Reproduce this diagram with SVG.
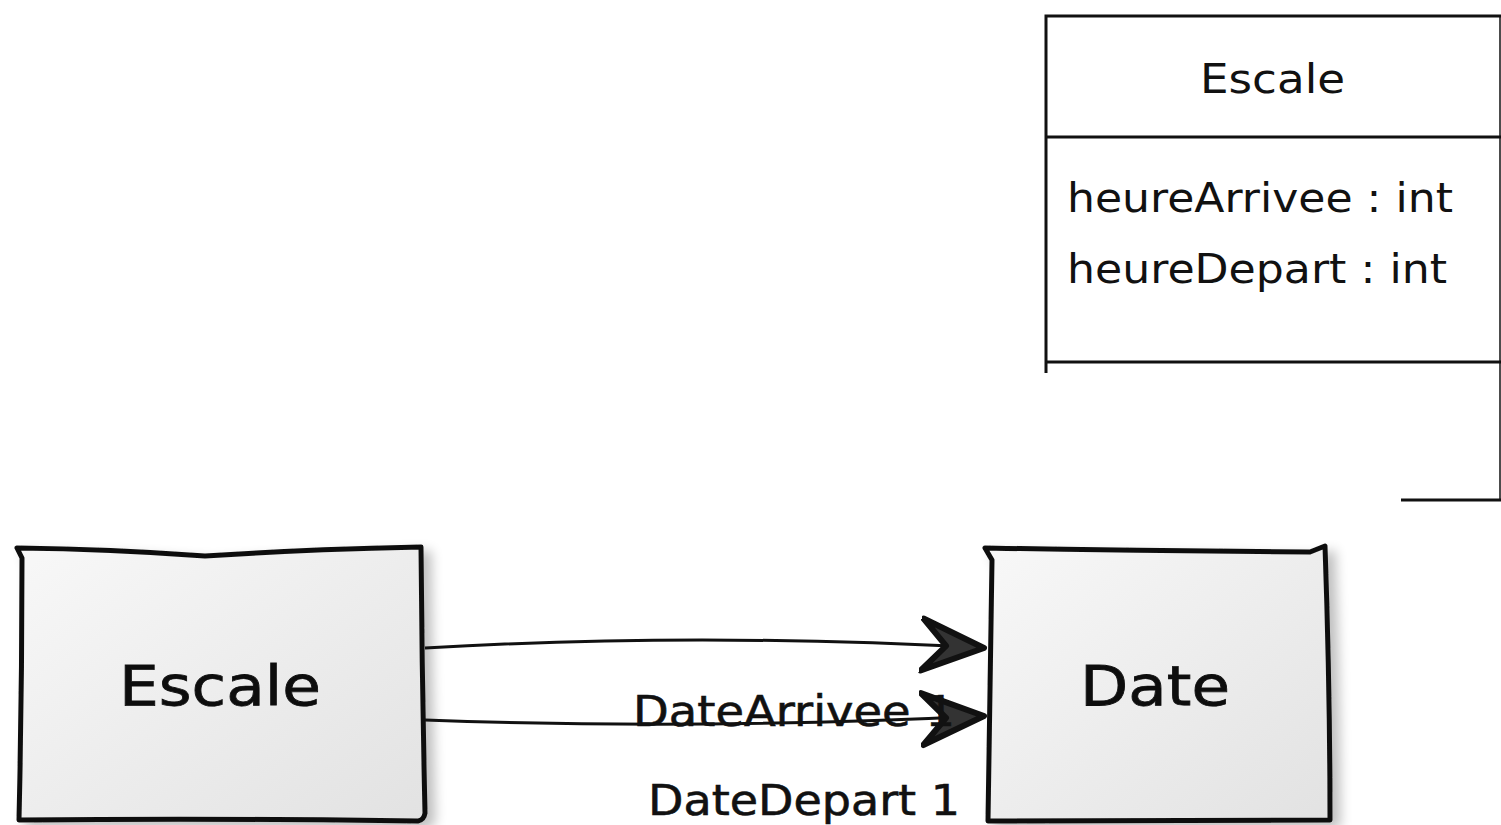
<svg xmlns="http://www.w3.org/2000/svg" width="1501" height="825" viewBox="0 0 1501 825">
<style>
.uml{fill:none;stroke:#111;stroke-width:3}
.umltxt{font-family:"DejaVu Sans",sans-serif;font-size:40px;fill:#111}
.sk{stroke:#111;stroke-width:5;stroke-linejoin:round;fill:url(#g)}
.sktxt{font-family:"DejaVu Sans",sans-serif;font-size:56px;fill:#111;stroke:#111;stroke-width:0.8}
.lbl{font-family:"DejaVu Sans",sans-serif;font-size:42px;fill:#111;stroke:#111;stroke-width:0.6}
.edge{fill:none;stroke:#111;stroke-width:3}
</style>
<defs>
<linearGradient id="g" x1="0" y1="0" x2="1" y2="1">
<stop offset="0" stop-color="#f8f8f8"/>
<stop offset="1" stop-color="#e2e2e2"/>
</linearGradient>
<filter id="sh" x="-10%" y="-10%" width="130%" height="130%">
<feGaussianBlur in="SourceAlpha" stdDeviation="6"/>
<feOffset dx="8" dy="6"/>
<feComponentTransfer><feFuncA type="linear" slope="0.25"/></feComponentTransfer>
<feMerge><feMergeNode/><feMergeNode in="SourceGraphic"/></feMerge>
</filter>
<marker id="arr" markerUnits="userSpaceOnUse" markerWidth="80" markerHeight="70" refX="64" refY="30" orient="auto">
<path d="M2,4 L64,30 L2,56 L26,30 Z" fill="#333" stroke="#111" stroke-width="6" stroke-linejoin="round"/>
</marker>
</defs>

<g id="class-escale">
<path class="uml" d="M1046,373 L1046,16 L1501,16"/>
<line class="uml" x1="1046" y1="137" x2="1501" y2="137"/>
<line class="uml" x1="1046" y1="362" x2="1501" y2="362"/>
<line x1="1500" y1="16" x2="1500" y2="500" stroke="#111" stroke-width="1.5"/>
<line class="uml" x1="1401" y1="500" x2="1501" y2="500"/>
<text class="umltxt" x="1200" y="93" textLength="145" lengthAdjust="spacingAndGlyphs">Escale</text>
<text class="umltxt" x="1067" y="212" textLength="386" lengthAdjust="spacingAndGlyphs">heureArrivee : int</text>
<text class="umltxt" x="1067" y="283" textLength="380" lengthAdjust="spacingAndGlyphs">heureDepart : int</text>
</g>

<g id="node-escale" filter="url(#sh)">
<path class="sk" d="M17,548 Q110,549 205,556 Q310,549 421,547 Q422,680 425,813 Q424,820 418,821 Q220,818 19,820 Q22,690 22,558 Z"/>
<text class="sktxt" x="220" y="705" text-anchor="middle" textLength="202" lengthAdjust="spacingAndGlyphs">Escale</text>
</g>

<g id="node-date" filter="url(#sh)">
<path class="sk" d="M985,548 Q1150,551 1310,552 L1325,546 Q1330,690 1330,820 Q1160,820 988,821 Q990,690 992,560 Z"/>
<text class="sktxt" x="1155" y="705" text-anchor="middle" textLength="150" lengthAdjust="spacingAndGlyphs">Date</text>
</g>

<g id="connectors">
<path class="edge" d="M425,648 Q700,632 984,648" marker-end="url(#arr)"/>
<path class="edge" d="M425,720 Q700,730 984,716" marker-end="url(#arr)"/>
<text class="lbl" x="633" y="726" textLength="322" lengthAdjust="spacingAndGlyphs">DateArrivee 1</text>
<text class="lbl" x="648" y="815" textLength="312" lengthAdjust="spacingAndGlyphs">DateDepart 1</text>
</g>
</svg>
